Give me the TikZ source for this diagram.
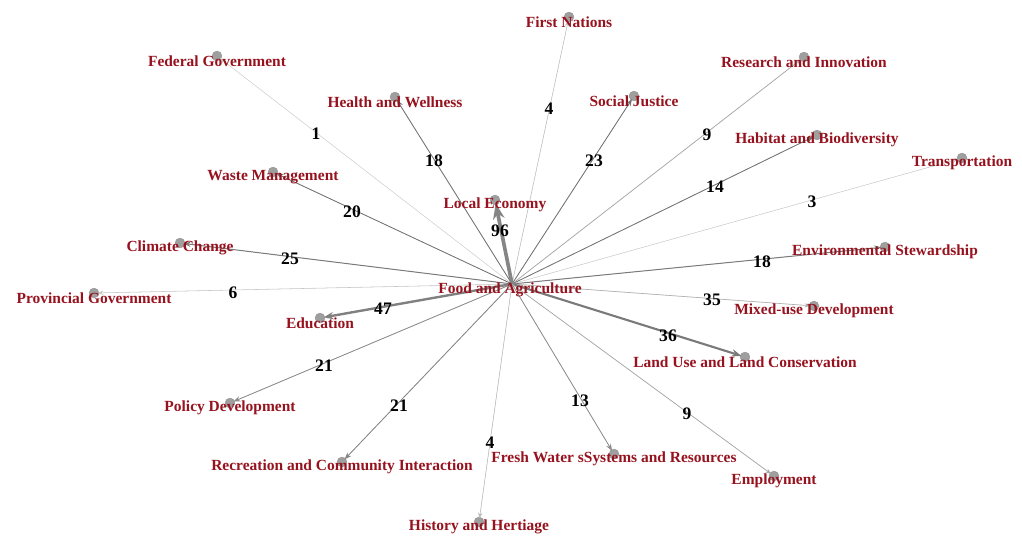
\documentclass[tikz,border=0pt]{standalone}
\usepackage{fontspec}
\setmainfont{Liberation Serif}
\usepackage{xcolor}
\usetikzlibrary{arrows.meta}
\definecolor{lblred}{RGB}{150,18,30}

\tikzset{
	dot/.style={circle, fill=gray!75, draw=gray!85, line width=0.3pt, inner sep=0pt, minimum size=7pt},
	lbl/.style={text=lblred, font=\fontsize{11}{13}\selectfont\bfseries, inner sep=0pt, yshift=-3.5pt},
	wgt/.style={font=\fontsize{12.5}{14}\selectfont\bfseries, inner sep=0pt},
	edge/.style={shorten >=-1pt}
}

\begin{document}
\begin{tikzpicture}[x=0.025cm, y=-0.025cm]
			\useasboundingbox (0,0) rectangle (1022,536);
			% node point
			
			\coordinate (fa) at (512,284);
			\node[dot] (le) at (495,200) {};
			\node[dot] (fg) at (217,56) {};
			\node[dot] (hw) at (395,97) {};
			\node[dot] (wm) at (273,172) {};
			\node[dot] (fn) at (569,17) {};
			\node[dot] (sj) at (634,96) {};
			\node[dot] (ri) at (804,57) {};
			\node[dot] (hb) at (817,135) {};
			\node[dot] (tr) at (962,158) {};
			\node[dot] (es) at (885,247) {};
			\node[dot] (md) at (814,306) {};
			\node[dot] (lu) at (745,357) {};
			\node[dot] (cc) at (180,243) {};
			\node[dot] (pg) at (94,293) {};
			\node[dot] (ed) at (320,318) {};
			\node[dot] (pd) at (230,403) {};
			\node[dot] (rc) at (342,462) {};
			\node[dot] (hh) at (479,522) {};
			\node[dot] (fw) at (614,454) {};
			\node[dot] (em) at (774,476) {};
			
			% draw edges: target / width / grey / arrow length
			
			\foreach \t/\w/\g/\a in {fg/0.3/20/4, hw/0.6/55/5, wm/0.6/55/5, fn/0.4/25/4, sj/0.6/55/5,
				ri/0.5/35/4, hb/0.6/55/5, tr/0.3/22/4, es/0.7/52/5, md/0.5/30/4, lu/1.5/52/7,
				cc/0.7/52/5, pg/0.4/22/4, ed/1.7/50/7, pd/0.6/45/5, rc/0.6/48/5, hh/0.4/28/4,
				fw/0.6/45/5, em/0.5/35/4, le/2.6/48/11}
				\draw[edge, -{Stealth[length=\a pt,width=0.75*\a pt]}, line width=\w pt, draw=black!\g, fill=black!\g] (fa) -- (\t);
			
			% labels
			
			\node[lbl] (fa-l) at (510,285) {Food and Agriculture};
			\node[lbl] at (le) {Local Economy};
			\node[lbl] at (fg) {Federal Government};
			\node[lbl] at (hw) {Health and Wellness};
			\node[lbl] at (wm) {Waste Management};
			\node[lbl] at (fn) {First Nations};
			\node[lbl] at (sj) {Social Justice};
			\node[lbl] at (ri) {Research and Innovation};
			\node[lbl] at (hb) {Habitat and Biodiversity};
			\node[lbl] at (tr) {Transportation};
			\node[lbl] at (es) {Environmental Stewardship};
			\node[lbl] at (md) {Mixed-use Development};
			\node[lbl] at (lu) {Land Use and Land Conservation};
			\node[lbl] at (cc) {Climate Change};
			\node[lbl] at (pg) {Provincial Government};
			\node[lbl] at (ed) {Education};
			\node[lbl] at (pd) {Policy Development};
			\node[lbl] at (rc) {Recreation and Community Interaction};
			\node[lbl] at (hh) {History and Hertiage};
			\node[lbl] at (fw) {Fresh Water sSystems and Resources};
			\node[lbl] at (em) {Employment};
			
			% weights
			
			\node[wgt] at (500,231) {96};
			\node[wgt] at (316,134) {1};
			\node[wgt] at (434,161) {18};
			\node[wgt] at (352,212) {20};
			\node[wgt] at (290,259) {25};
			\node[wgt] at (233,293) {6};
			\node[wgt] at (383,309) {47};
			\node[wgt] at (324,366) {21};
			\node[wgt] at (399,406) {21};
			\node[wgt] at (490,443) {4};
			\node[wgt] at (580,401) {13};
			\node[wgt] at (687,414) {9};
			\node[wgt] at (668,336) {36};
			\node[wgt] at (712,300) {35};
			\node[wgt] at (762,262) {18};
			\node[wgt] at (812,202) {3};
			\node[wgt] at (715,187) {14};
			\node[wgt] at (707,135) {9};
			\node[wgt] at (594,161) {23};
			\node[wgt] at (549,109) {4};
			
\end{tikzpicture}
\end{document}
